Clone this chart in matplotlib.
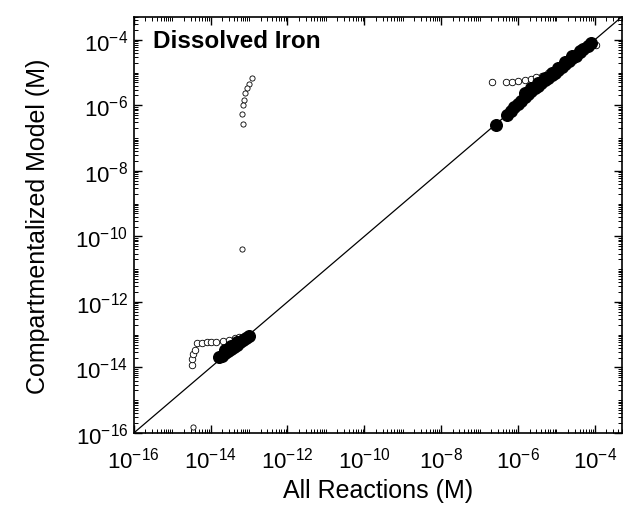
import matplotlib.pyplot as plt
import numpy as np
from matplotlib.ticker import LogLocator, NullFormatter

plt.rcParams['font.family'] = ['Liberation Sans', 'DejaVu Sans']
plt.rcParams['mathtext.fontset'] = 'custom'
plt.rcParams['mathtext.rm'] = 'Liberation Sans'
plt.rcParams['mathtext.it'] = 'Liberation Sans'

# steady-state concentrations (M): all-reactions model vs compartmentalized model
# upper cluster, filled markers (close to the 1:1 line)
hi_fill_x = [2.7e-7, 5.1e-7, 6.5e-7, 8.0e-7, 1.0e-6, 1.2e-6, 1.5e-6, 1.8e-6, 2.2e-6,
             2.7e-6, 3.3e-6, 4.0e-6, 5.0e-6, 6.0e-6, 7.5e-6, 9.0e-6, 1.1e-5, 1.4e-5,
             1.7e-5, 2.1e-5, 2.6e-5, 3.2e-5, 4.0e-5, 5.0e-5, 6.5e-5, 8.0e-5,
             1.5e-6, 2.2e-6, 3.3e-6, 5.0e-6, 7.5e-6, 1.1e-5, 1.7e-5, 2.6e-5, 4.0e-5]
hi_fill_y = [2.5e-7, 5.0e-7, 6.8e-7, 8.6e-7, 1.1e-6, 1.4e-6, 1.8e-6, 2.2e-6, 2.7e-6,
             3.3e-6, 4.0e-6, 4.8e-6, 5.9e-6, 7.0e-6, 8.6e-6, 1.0e-5, 1.2e-5, 1.5e-5,
             1.8e-5, 2.2e-5, 2.7e-5, 3.3e-5, 4.1e-5, 5.1e-5, 6.6e-5, 8.1e-5,
             2.3e-6, 3.3e-6, 4.8e-6, 7.0e-6, 1.0e-5, 1.4e-5, 2.1e-5, 3.1e-5, 4.6e-5]

# upper cluster, open markers (above the 1:1 line)
hi_open_x = [2.1e-7, 4.9e-7, 7.0e-7, 1.0e-6, 1.5e-6, 2.2e-6, 3.0e-6, 4.2e-6, 6.0e-6,
             8.5e-6, 1.2e-5, 1.8e-5, 2.6e-5, 3.7e-5, 5.2e-5, 7.4e-5, 1.07e-4]
hi_open_y = [5.0e-6, 5.0e-6, 5.2e-6, 5.5e-6, 5.9e-6, 6.4e-6, 7.1e-6, 8.0e-6, 9.5e-6,
             1.15e-5, 1.4e-5, 2.1e-5, 2.8e-5, 3.7e-5, 4.8e-5, 6.0e-5, 7.0e-5]

# lower cluster, filled markers
lo_fill_x = [1.7e-14, 2.0e-14, 2.4e-14, 2.9e-14, 3.4e-14, 4.0e-14, 4.8e-14, 5.7e-14,
             6.8e-14, 8.2e-14, 1.0e-13, 2.4e-14, 3.4e-14, 4.8e-14]
lo_fill_y = [2.1e-14, 2.3e-14, 2.7e-14, 3.1e-14, 3.6e-14, 4.2e-14, 5.0e-14, 5.8e-14,
             6.8e-14, 7.9e-14, 8.9e-14, 3.3e-14, 4.4e-14, 5.9e-14]

# lower cluster, open markers
lo_open_x = [3.2e-15, 3.3e-15, 3.4e-15, 3.9e-15, 4.4e-15, 5.8e-15, 7.9e-15, 1.05e-14,
             1.4e-14, 2.1e-14, 3.1e-14, 4.2e-14, 5.6e-14]
lo_open_y = [1.2e-14, 1.8e-14, 2.6e-14, 3.5e-14, 5.4e-14, 5.7e-14, 5.8e-14, 5.8e-14,
             5.8e-14, 6.4e-14, 7.1e-14, 8.0e-14, 8.8e-14]

# scattered outliers (open markers)
out_x = [1.2e-13, 1.0e-13, 9.0e-14, 8.0e-14, 7.3e-14, 6.8e-14, 6.5e-14, 6.8e-14,
         6.5e-14, 3.4e-15]
out_y = [6.6e-6, 4.6e-6, 3.3e-6, 2.3e-6, 1.5e-6, 1.0e-6, 5.5e-7, 2.7e-7,
         4.1e-11, 1.5e-16]

lim = (1e-16, 10 ** -3.3)

fig = plt.figure(figsize=(6.28, 5.10), dpi=100)
ax = fig.add_axes([0.213, 0.149, 0.777, 0.816])

ax.plot(lim, lim, color='black', lw=0.9, zorder=1)

ax.scatter(hi_open_x, hi_open_y, s=22, facecolors='white', edgecolors='black',
           linewidths=0.6, zorder=2)
ax.scatter(lo_open_x, lo_open_y, s=22, facecolors='white', edgecolors='black',
           linewidths=0.6, zorder=2)
ax.scatter(out_x, out_y, s=14, facecolors='white', edgecolors='black',
           linewidths=0.6, zorder=2)
ax.scatter(hi_fill_x, hi_fill_y, s=70, color='black', zorder=3)
ax.scatter(lo_fill_x, lo_fill_y, s=70, color='black', zorder=3)

ax.set_xscale('log')
ax.set_yscale('log')
ax.set_xlim(lim)
ax.set_ylim(lim)

ticks = [10.0 ** e for e in range(-16, -3, 2)]
ax.set_xticks(ticks)
ax.set_yticks(ticks)
for axis in (ax.xaxis, ax.yaxis):
    axis.set_minor_locator(LogLocator(base=10, subs=np.arange(1, 10), numticks=100))
    axis.set_minor_formatter(NullFormatter())

ax.tick_params(which='both', direction='in', top=True, right=True, labelsize=16)
ax.tick_params(which='major', length=6, width=1.0)
ax.tick_params(axis='x', which='major', pad=10)
ax.tick_params(axis='y', which='major', pad=4)
ax.tick_params(which='minor', length=3, width=0.7)
for sp in ax.spines.values():
    sp.set_linewidth(1.2)

ax.set_xlabel('All Reactions (M)', fontsize=18, labelpad=4)
ax.set_ylabel('Compartmentalized Model (M)', fontsize=18, labelpad=18)
ax.text(0.04, 0.97, 'Dissolved Iron', transform=ax.transAxes, fontsize=17.5,
        fontweight='bold', va='top', ha='left')

fig.savefig('out.png', dpi=100)
